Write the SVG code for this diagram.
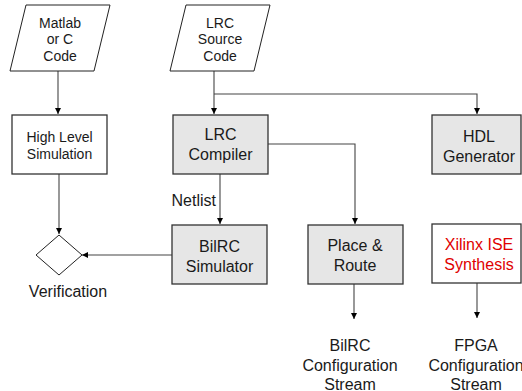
<svg xmlns="http://www.w3.org/2000/svg" width="522" height="391" viewBox="0 0 522 391">
<defs>
<marker id="ah" markerUnits="userSpaceOnUse" markerWidth="7" markerHeight="7" refX="6" refY="3" orient="auto">
<path d="M0,0 L6,3 L0,6 z" fill="#000"/>
</marker>
<style>
.io{fill:#fff;stroke:#222;stroke-width:1}
.box{fill:#e6e6e6;stroke:#333;stroke-width:1.3}
.wbox{fill:#fff;stroke:#333;stroke-width:1.3}
.dia{fill:#fff;stroke:#222;stroke-width:1}
.c{fill:none;stroke:#444;stroke-width:1.1}
.a{marker-end:url(#ah)}
text{font-family:"Liberation Sans",Arial,sans-serif;fill:#1a1a1a;text-anchor:middle}
.s14{font-size:14px}
.s16{font-size:16px}
.red{fill:#e00000}
</style>
</defs>
<rect width="522" height="391" fill="#fff"/>

<g id="connectors">
<path class="c a" d="M58,71 V114"/>
<path class="c a" d="M214,71 V114"/>
<path class="c a" d="M214,94 H477 V114"/>
<path class="c a" d="M268,144 H355 V224"/>
<path class="c a" d="M220,174 V224"/>
<path class="c a" d="M59,174 V234"/>
<path class="c a" d="M172,255 H82"/>
<path class="c a" d="M354,284 V319"/>
<path class="c a" d="M477,283 V318"/>
</g>

<g id="matlab">
<polygon class="io" points="26,5 110,5 94,71 10,71"/>
<text class="s14" x="60" y="27.5">Matlab</text>
<text class="s14" x="60" y="44">or C</text>
<text class="s14" x="60" y="60.5">Code</text>
</g>

<g id="lrcsource">
<polygon class="io" points="186,5 270,5 254,71 170,71"/>
<text class="s14" x="220" y="27.5">LRC</text>
<text class="s14" x="220" y="44">Source</text>
<text class="s14" x="220" y="60.5">Code</text>
</g>

<g id="highlevel">
<rect class="wbox" x="12" y="115" width="95" height="59"/>
<text class="s14" x="59.5" y="142">High Level</text>
<text class="s14" x="59.5" y="159">Simulation</text>
</g>

<g id="compiler">
<rect class="box" x="173" y="115" width="95" height="59"/>
<text class="s16" x="220.5" y="140">LRC</text>
<text class="s16" x="220.5" y="160">Compiler</text>
</g>

<g id="hdl">
<rect class="box" x="432" y="115" width="89" height="59"/>
<text class="s16" x="479" y="141.5">HDL</text>
<text class="s16" x="479" y="161.5">Generator</text>
</g>

<g id="netlist">
<text class="s16" x="216" y="206" style="text-anchor:end">Netlist</text>
</g>

<g id="simulator">
<rect class="box" x="172" y="225" width="95" height="59"/>
<text class="s16" x="219.5" y="251.5">BilRC</text>
<text class="s16" x="219.5" y="271.5">Simulator</text>
</g>

<g id="placeroute">
<rect class="box" x="308" y="225" width="95" height="59"/>
<text class="s16" x="355" y="251">Place &amp;</text>
<text class="s16" x="355" y="271">Route</text>
</g>

<g id="xilinx">
<rect class="wbox" x="432" y="224" width="89" height="59"/>
<text class="s16 red" x="479" y="250">Xilinx ISE</text>
<text class="s16 red" x="479" y="270">Synthesis</text>
</g>

<g id="verification">
<polygon class="dia" points="59,235 82,255 59,275 36,255"/>
<text class="s16" x="68" y="297">Verification</text>
</g>

<g id="bilrcstream">
<text class="s16" x="350" y="350.5">BilRC</text>
<text class="s16" x="350" y="370.5">Configuration</text>
<text class="s16" x="350" y="390">Stream</text>
</g>

<g id="fpgastream">
<text class="s16" x="476" y="350.5">FPGA</text>
<text class="s16" x="476" y="370.5">Configuration</text>
<text class="s16" x="476" y="390">Stream</text>
</g>
</svg>
